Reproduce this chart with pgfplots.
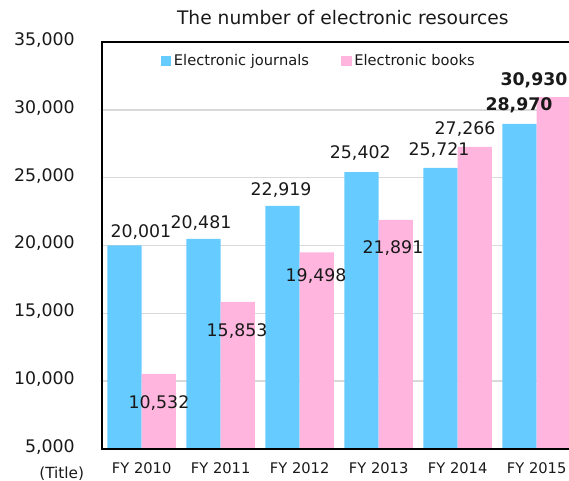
\documentclass[border=0pt]{standalone}
\usepackage{pgfplots}
\pgfplotsset{compat=1.18}
\usepackage{fontspec}
\setmainfont{DejaVu Sans}
\definecolor{eblue}{RGB}{102,204,255}
\definecolor{epink}{RGB}{255,181,222}
\definecolor{txt}{RGB}{25,25,25}
\begin{document}
\begin{tikzpicture}
\useasboundingbox (-76.275pt,-24pt) rectangle (350.475pt,336.75pt);
\begin{axis}[
  scale only axis, width=350.475pt, height=305.25pt,
  at={(0,0)}, anchor=south west,
  xmin=-0.506, xmax=5.409, ymin=5000, ymax=35000,
  ybar=0pt, bar width=0.434,
  clip=false,
  xtick={0,1,2,3,4,5},
  xticklabels={FY 2010,FY 2011,FY 2012,FY 2013,FY 2014,FY 2015},
  ytick={5000,10000,15000,20000,25000,30000,35000},
  scaled y ticks=false,
  /pgf/number format/1000 sep={,},
  /pgf/number format/assume math mode=true,
  ymajorgrids, grid style={line width=1.1pt, color=black!15},
  major tick length=0pt,
  axis line style={draw=none},
  yticklabel style={anchor=east, inner sep=0pt, xshift=-20pt, yshift=1.5pt, font=\fontsize{13pt}{15pt}\selectfont, text=txt},
  xticklabel style={anchor=center, inner sep=0pt, yshift=-14.25pt, font=\fontsize{11pt}{13pt}\selectfont, text=txt},
  title={The number of electronic resources},
  title style={at={(axis description cs:0.516,1.041)}, anchor=center, inner sep=0pt, font=\fontsize{14pt}{16pt}\selectfont, text=txt},
  legend style={at={(axis description cs:0.465,0.953)}, anchor=center, draw=none, fill=none,
    font=\fontsize{11pt}{13pt}\selectfont, text=txt,
    /tikz/every even column/.append style={column sep=22pt}},
  legend columns=2,
]
\addplot[fill=eblue, draw=none, legend image code/.code={\fill[eblue] (0pt,-4pt) rectangle (8pt,4pt);}]
  coordinates {(0,20001) (1,20481) (2,22919) (3,25402) (4,25721) (5,28970)};
\addplot[fill=epink, draw=none, legend image code/.code={\fill[epink] (0pt,-4pt) rectangle (8pt,4pt);}]
  coordinates {(0,10532) (1,15853) (2,19498) (3,21891) (4,27266) (5,30930)};
\legend{Electronic journals, Electronic books}
\draw[line width=1.5pt, black] (rel axis cs:1,1) -- (rel axis cs:0,1) -- (rel axis cs:0,0) -- (rel axis cs:1,0);
\begin{scope}[every node/.style={font=\fontsize{13pt}{15pt}\selectfont, text=txt, inner sep=0pt}]
\node at (axis cs:-0.009,20995) {20,001};
\node at (axis cs:0.751,21659) {20,481};
\node at (axis cs:1.764,24091) {22,919};
\node at (axis cs:2.767,26818) {25,402};
\node at (axis cs:3.764,27040) {25,721};
\node at (axis cs:4.776,30356) {\bfseries 28,970};
\node at (axis cs:0.219,8391) {10,532};
\node at (axis cs:1.207,13698) {15,853};
\node at (axis cs:2.207,17752) {19,498};
\node at (axis cs:3.181,19816) {21,891};
\node at (axis cs:4.093,28587) {27,266};
\node at (axis cs:4.966,32199) {\bfseries 30,930};
\end{scope}
\node[font=\fontsize{11.5pt}{13pt}\selectfont, text=txt, inner sep=0pt, xshift=-30pt, yshift=-18.75pt] at (rel axis cs:0,0) {(Title)};
\end{axis}
\end{tikzpicture}
\end{document}
